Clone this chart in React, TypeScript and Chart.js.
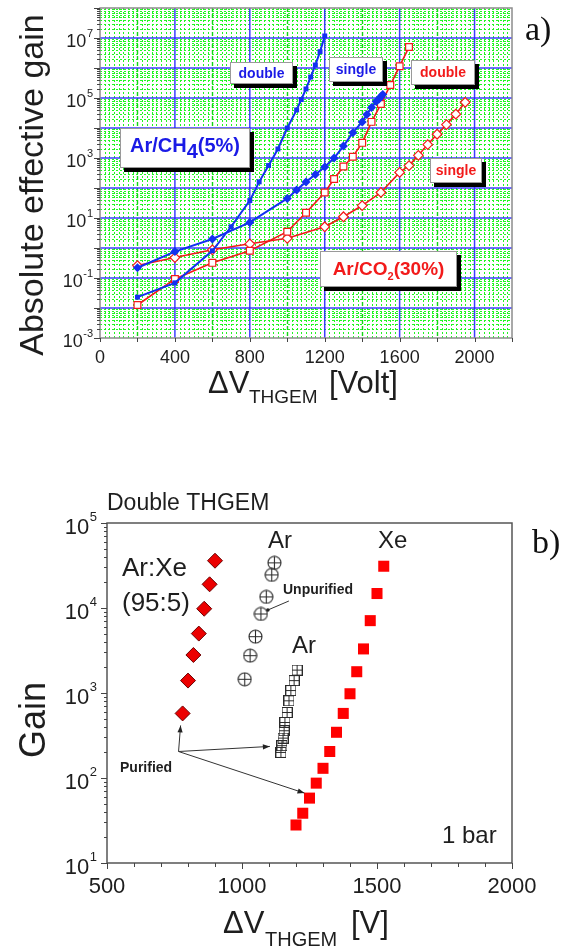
import React, { useEffect, useRef } from 'react';
import { Chart, registerables } from 'chart.js';

Chart.register(...registerables);

const FONT = "'Liberation Sans', Arial, Helvetica, sans-serif";
const SERIF = "'Liberation Serif', 'Times New Roman', Times, serif";
const BLUE = '#1430f0';
const RED = '#f21a1a';
const TXT = '#1e1e1e';

// ---------- Panel a) data : Absolute effective gain vs dV_THGEM ----------
const aChSingleV = [200, 400, 600, 800, 1000, 1050, 1100, 1150, 1200, 1250, 1300, 1350, 1400, 1425, 1450, 1475, 1490, 1500, 1510];
const aChSingleG = [0.22, 0.76, 2.0, 7.1, 45, 85, 160, 280, 500, 1000, 2500, 7000, 16000, 28000, 48000, 76000, 93000, 112000, 132000];
const aChDoubleV = [200, 400, 600, 700, 800, 850, 900, 950, 1000, 1050, 1075, 1100, 1125, 1150, 1175, 1200];
const aChDoubleG = [0.023, 0.069, 0.81, 5.1, 38, 160, 560, 2000, 10000, 40000, 89000, 200000, 500000, 1260000, 3500000, 11700000];
const aCoDoubleV = [200, 400, 600, 800, 1000, 1100, 1200, 1250, 1300, 1350, 1400, 1450, 1500, 1550, 1600, 1650];
const aCoDoubleG = [0.0126, 0.093, 0.32, 0.81, 3.5, 15, 71, 200, 520, 1100, 3200, 16000, 63000, 270000, 1150000, 5000000];
const aCoSingleV = [200, 400, 600, 800, 1000, 1200, 1300, 1400, 1500, 1600, 1650, 1700, 1750, 1800, 1850, 1900, 1950];
const aCoSingleG = [0.26, 0.48, 0.87, 1.38, 2.1, 5.1, 11, 26, 71, 330, 560, 1230, 2800, 6200, 13000, 29000, 72000];
const aXTicks = [0, 400, 800, 1200, 1600, 2000];
const aYTickExps = [-3, -1, 1, 3, 5, 7];

// ---------- Panel b) data : Gain vs dV_THGEM (Double THGEM, 1 bar) ----------
const bArXeV = [780, 800, 820, 840, 860, 880, 900];
const bArXeG = [575, 1400, 2800, 5000, 9800, 19000, 36000];
const bArUnpV = [1010, 1030, 1050, 1070, 1090, 1110, 1120];
const bArUnpG = [1450, 2750, 4600, 8500, 13500, 24500, 34000];
const bArPurV = [1204, 1193, 1181, 1174, 1167, 1159, 1156, 1152, 1148, 1144];
const bArPurG = [1860, 1400, 1070, 810, 590, 450, 360, 295, 240, 200];
const bXeV = [1200, 1225, 1250, 1275, 1300, 1325, 1350, 1375, 1400, 1425, 1450, 1475, 1500, 1525];
const bXeG = [28, 38.5, 58, 87, 130, 205, 345, 575, 980, 1780, 3300, 7100, 14800, 31000];
const bXTicks = [500, 1000, 1500, 2000];
const bYTickExps = [1, 2, 3, 4, 5];

const pts = (xs: number[], ys: number[]) => xs.map((v, i) => ({ x: v, y: ys[i] }));

function seg(ctx: any, x1: number, y1: number, x2: number, y2: number) {
  ctx.beginPath();
  ctx.moveTo(x1, y1);
  ctx.lineTo(x2, y2);
  ctx.stroke();
}

function supLabel(ctx: any, xRight: number, yTick: number, exp: string, bigSize: number, smallSize: number, bigDy: number, smallDy: number) {
  ctx.textAlign = 'left';
  ctx.textBaseline = 'alphabetic';
  ctx.font = `${smallSize}px ${FONT}`;
  const ew = ctx.measureText(exp).width;
  ctx.fillText(exp, xRight - ew, yTick + smallDy);
  ctx.font = `${bigSize}px ${FONT}`;
  const bw = ctx.measureText('10').width;
  ctx.fillText('10', xRight - ew - bw - 0.5, yTick + bigDy);
}

type Run = { t: string; font: string; dy?: number };
function runsWidth(ctx: any, list: Run[]) {
  let w = 0;
  for (const r of list) {
    ctx.font = r.font;
    w += ctx.measureText(r.t).width;
  }
  return w;
}
function drawRuns(ctx: any, x: number, y: number, list: Run[]) {
  ctx.textAlign = 'left';
  ctx.textBaseline = 'alphabetic';
  let cx = x;
  for (const r of list) {
    ctx.font = r.font;
    ctx.fillText(r.t, cx, y + (r.dy || 0));
    cx += ctx.measureText(r.t).width;
  }
  return cx;
}

function shadowBox(ctx: any, x: number, y: number, w: number, h: number) {
  ctx.fillStyle = '#000';
  ctx.fillRect(x + 4, y + 4, w, h);
  ctx.fillStyle = '#fff';
  ctx.fillRect(x, y, w, h);
  ctx.strokeStyle = '#9a9a9a';
  ctx.lineWidth = 1;
  ctx.strokeRect(x + 0.5, y + 0.5, w - 1, h - 1);
}

function boxText(ctx: any, x: number, y: number, w: number, h: number, list: Run[], color: string, baseline: number) {
  shadowBox(ctx, x, y, w, h);
  ctx.fillStyle = color;
  const tw = runsWidth(ctx, list);
  drawRuns(ctx, x + (w - tw) / 2, baseline, list);
}

function arrow(ctx: any, x1: number, y1: number, x2: number, y2: number) {
  seg(ctx, x1, y1, x2, y2);
  const a = Math.atan2(y2 - y1, x2 - x1);
  const L = 7, W = 2.6;
  ctx.beginPath();
  ctx.moveTo(x2, y2);
  ctx.lineTo(x2 - L * Math.cos(a) + W * Math.sin(a), y2 - L * Math.sin(a) - W * Math.cos(a));
  ctx.lineTo(x2 - L * Math.cos(a) - W * Math.sin(a), y2 - L * Math.sin(a) + W * Math.cos(a));
  ctx.closePath();
  ctx.fill();
}

function circlePlus(d: number) {
  const c = document.createElement('canvas');
  c.width = d;
  c.height = d;
  const g = c.getContext('2d')!;
  const m = d / 2, r = d / 2 - 1;
  g.strokeStyle = '#2a2a2a';
  g.lineWidth = 1.1;
  g.beginPath();
  g.arc(m, m, r, 0, Math.PI * 2);
  g.stroke();
  g.beginPath();
  g.moveTo(m, m - r);
  g.lineTo(m, m + r);
  g.moveTo(m - r, m);
  g.lineTo(m + r, m);
  g.stroke();
  return c;
}

function squarePlus(d: number) {
  const c = document.createElement('canvas');
  c.width = d;
  c.height = d;
  const g = c.getContext('2d')!;
  g.strokeStyle = '#2a2a2a';
  g.lineWidth = 1;
  g.strokeRect(0.5, 0.5, d - 1, d - 1);
  const m = Math.floor(d / 2) + 0.5;
  g.beginPath();
  g.moveTo(m, 0);
  g.lineTo(m, d);
  g.moveTo(0, m);
  g.lineTo(d, m);
  g.stroke();
  return c;
}

const panelAPlugin = {
  id: 'panelA',
  beforeDatasetsDraw(chart: any) {
    const { ctx, chartArea: ca } = chart;
    const x = chart.scales.x, y = chart.scales.y;
    ctx.save();
    ctx.fillStyle = '#ffffff';
    ctx.fillRect(ca.left, ca.top, ca.right - ca.left, ca.bottom - ca.top);
    // dense green dotted grid
    ctx.lineWidth = 1;
    ctx.strokeStyle = '#22f522';
    ctx.setLineDash([2, 2]);
    for (let v = 25; v < 2200; v += 25) {
      if (v % 200 === 0) continue;
      const px = Math.round(x.getPixelForValue(v)) + 0.5;
      seg(ctx, px, ca.top, px, ca.bottom);
    }
    for (let e = -3; e < 8; e++) {
      for (let k = 2; k < 10; k++) {
        const py = Math.round(y.getPixelForValue(k * Math.pow(10, e))) + 0.5;
        seg(ctx, ca.left, py, ca.right, py);
      }
    }
    // medium green dashed verticals
    ctx.strokeStyle = '#14d614';
    ctx.lineWidth = 1.4;
    ctx.setLineDash([4, 2]);
    for (let v = 200; v < 2200; v += 400) {
      const px = Math.round(x.getPixelForValue(v)) + 0.5;
      seg(ctx, px, ca.top, px, ca.bottom);
    }
    // blue major grid
    ctx.setLineDash([]);
    ctx.strokeStyle = 'rgba(40,40,255,0.9)';
    ctx.lineWidth = 1.5;
    for (let v = 400; v <= 2000; v += 400) {
      const px = x.getPixelForValue(v);
      seg(ctx, px, ca.top, px, ca.bottom);
    }
    for (let e = -2; e <= 7; e++) {
      const py = y.getPixelForValue(Math.pow(10, e));
      seg(ctx, ca.left, py, ca.right, py);
    }
    ctx.restore();
  },
  afterDraw(chart: any) {
    const { ctx, chartArea: ca } = chart;
    const x = chart.scales.x, y = chart.scales.y;
    ctx.save();
    // label boxes
    boxText(ctx, 230, 62, 63, 22, [{ t: 'double', font: `bold 14px ${FONT}` }], '#1a1ae6', 78);
    boxText(ctx, 329, 57, 54, 25, [{ t: 'single', font: `bold 14px ${FONT}` }], '#1a1ae6', 74);
    boxText(ctx, 411, 60, 64, 25, [{ t: 'double', font: `bold 14px ${FONT}` }], RED, 77);
    boxText(ctx, 430, 158, 52, 25, [{ t: 'single', font: `bold 14px ${FONT}` }], RED, 175);
    boxText(ctx, 120, 128, 130, 40, [
      { t: 'Ar/CH', font: `bold 20px ${FONT}` },
      { t: '4', font: `bold 20px ${FONT}`, dy: 6 },
      { t: '(5%)', font: `bold 20px ${FONT}` },
    ], '#1a1ae6', 152);
    boxText(ctx, 320, 251, 137, 36, [
      { t: 'Ar/CO', font: `bold 19px ${FONT}` },
      { t: '2', font: `bold 11px ${FONT}`, dy: 5 },
      { t: '(30%)', font: `bold 19px ${FONT}` },
    ], RED, 275);

    // frame
    ctx.strokeStyle = '#8c8c8c';
    ctx.lineWidth = 1.5;
    ctx.strokeRect(ca.left, ca.top, ca.right - ca.left, ca.bottom - ca.top);
    // ticks
    ctx.strokeStyle = '#444';
    ctx.lineWidth = 1;
    for (let v = 0; v <= 2200; v += 200) {
      const px = Math.round(x.getPixelForValue(v)) + 0.5;
      seg(ctx, px, ca.bottom, px, ca.bottom + 4);
    }
    for (let e = -3; e <= 8; e++) {
      const py = Math.round(y.getPixelForValue(Math.pow(10, e))) + 0.5;
      seg(ctx, ca.left - 6, py, ca.left, py);
      if (e < 8) {
        for (let k = 2; k < 10; k++) {
          const pm = Math.round(y.getPixelForValue(k * Math.pow(10, e))) + 0.5;
          seg(ctx, ca.left - 3, pm, ca.left, pm);
        }
      }
    }
    // tick labels
    ctx.fillStyle = TXT;
    ctx.font = `18px ${FONT}`;
    ctx.textAlign = 'center';
    ctx.textBaseline = 'alphabetic';
    aXTicks.forEach((v) => ctx.fillText(String(v), x.getPixelForValue(v), 363));
    aYTickExps.forEach((e) => {
      supLabel(ctx, 93, y.getPixelForValue(Math.pow(10, e)), String(e), 18, 11, 9, -1);
    });
    // axis titles
    ctx.fillStyle = TXT;
    drawRuns(ctx, 208, 393, [{ t: '\u0394V', font: `31px ${FONT}` }]);
    drawRuns(ctx, 249, 403, [{ t: 'THGEM', font: `19px ${FONT}` }]);
    drawRuns(ctx, 329, 393, [{ t: '[Volt]', font: `31px ${FONT}` }]);
    ctx.save();
    ctx.translate(43, 185);
    ctx.rotate(-Math.PI / 2);
    ctx.textAlign = 'center';
    ctx.textBaseline = 'alphabetic';
    ctx.font = `34px ${FONT}`;
    ctx.fillText('Absolute effective gain', 0, 0);
    ctx.restore();
    // panel tag
    ctx.fillStyle = '#111';
    ctx.font = `34px ${SERIF}`;
    ctx.textAlign = 'left';
    ctx.fillText('a)', 525, 40);
    ctx.restore();
  },
};

const OY = 460;
const panelBPlugin = {
  id: 'panelB',
  afterDraw(chart: any) {
    const { ctx, chartArea: ca } = chart;
    const x = chart.scales.x, y = chart.scales.y;
    ctx.save();
    // frame
    ctx.strokeStyle = '#555';
    ctx.lineWidth = 1.5;
    ctx.strokeRect(ca.left, ca.top, ca.right - ca.left, ca.bottom - ca.top);
    // ticks
    ctx.lineWidth = 1;
    ctx.strokeStyle = '#444';
    for (let v = 500; v <= 2000; v += 100) {
      const px = Math.round(x.getPixelForValue(v)) + 0.5;
      seg(ctx, px, ca.bottom, px, ca.bottom + (v % 500 === 0 ? 6 : 4));
    }
    for (let e = 1; e <= 5; e++) {
      const py = Math.round(y.getPixelForValue(Math.pow(10, e))) + 0.5;
      seg(ctx, ca.left - 6, py, ca.left, py);
      if (e < 5) {
        for (let k = 2; k < 10; k++) {
          const pm = Math.round(y.getPixelForValue(k * Math.pow(10, e))) + 0.5;
          seg(ctx, ca.left - 3, pm, ca.left, pm);
        }
      }
    }
    // tick labels
    ctx.fillStyle = TXT;
    ctx.font = `22px ${FONT}`;
    ctx.textAlign = 'center';
    ctx.textBaseline = 'alphabetic';
    bXTicks.forEach((v) => ctx.fillText(String(v), x.getPixelForValue(v), 893 - OY));
    bYTickExps.forEach((e) => {
      supLabel(ctx, 97, y.getPixelForValue(Math.pow(10, e)), String(e), 22, 13, 11, -2);
    });
    // axis titles
    drawRuns(ctx, 223, 933 - OY, [{ t: '\u0394V', font: `31px ${FONT}` }]);
    drawRuns(ctx, 265, 946 - OY, [{ t: 'THGEM', font: `20px ${FONT}` }]);
    drawRuns(ctx, 351, 933 - OY, [{ t: '[V]', font: `31px ${FONT}` }]);
    ctx.save();
    ctx.translate(45, 720 - OY);
    ctx.rotate(-Math.PI / 2);
    ctx.textAlign = 'center';
    ctx.font = `36px ${FONT}`;
    ctx.fillText('Gain', 0, 0);
    ctx.restore();

    // annotations
    ctx.fillStyle = TXT;
    ctx.textAlign = 'left';
    ctx.font = `23px ${FONT}`;
    ctx.fillText('Double THGEM', 107, 510 - OY);
    ctx.font = `26px ${FONT}`;
    ctx.fillText('Ar:Xe', 122, 576 - OY);
    ctx.fillText('(95:5)', 122, 611 - OY);
    ctx.font = `24px ${FONT}`;
    ctx.fillText('Ar', 268, 548 - OY);
    ctx.fillText('Ar', 292, 653 - OY);
    ctx.fillText('Xe', 378, 548 - OY);
    ctx.fillText('1 bar', 442, 843 - OY);
    ctx.font = `bold 14px ${FONT}`;
    ctx.fillText('Unpurified', 283, 594 - OY);
    ctx.fillText('Purified', 120, 772 - OY);
    ctx.fillStyle = '#111';
    ctx.font = `34px ${SERIF}`;
    ctx.fillText('b)', 532, 553 - OY);

    // connector to unpurified Ar
    const pu = { x: x.getPixelForValue(bArUnpV[3]) + 7, y: y.getPixelForValue(bArUnpG[3]) - 4 };
    ctx.strokeStyle = '#333';
    ctx.fillStyle = '#222';
    ctx.lineWidth = 1;
    seg(ctx, pu.x, pu.y, pu.x + 21, pu.y - 9);
    ctx.beginPath();
    ctx.arc(pu.x, pu.y, 1.8, 0, Math.PI * 2);
    ctx.fill();

    // "Purified" arrows
    const ox = x.getPixelForValue(765), oy = y.getPixelForValue(205);
    const t1 = { x: x.getPixelForValue(bArXeV[0]) - 2, y: y.getPixelForValue(bArXeG[0]) + 12 };
    const t2 = { x: x.getPixelForValue(bArPurV[bArPurV.length - 1]) - 11, y: y.getPixelForValue(bArPurG[bArPurG.length - 1]) - 6 };
    const t3 = { x: x.getPixelForValue(bXeV[2]) - 5, y: y.getPixelForValue(bXeG[2]) - 5 };
    arrow(ctx, ox, oy, t1.x, t1.y);
    arrow(ctx, ox, oy, t2.x, t2.y);
    arrow(ctx, ox, oy, t3.x, t3.y);
    ctx.restore();
  },
};

export default function App() {
  const refA = useRef<HTMLCanvasElement>(null);
  const refB = useRef<HTMLCanvasElement>(null);

  useEffect(() => {
    const chartA = new Chart(refA.current as HTMLCanvasElement, {
      type: 'scatter',
      data: {
        datasets: [
          {
            label: 'Ar/CH4 double',
            data: pts(aChDoubleV, aChDoubleG),
            showLine: true,
            borderColor: BLUE,
            backgroundColor: BLUE,
            borderWidth: 2,
            pointStyle: 'rect',
            pointRadius: 3.5,
            pointBorderWidth: 0,
            pointBackgroundColor: BLUE,
          },
          {
            label: 'Ar/CH4 single',
            data: pts(aChSingleV, aChSingleG),
            showLine: true,
            borderColor: BLUE,
            backgroundColor: BLUE,
            borderWidth: 2,
            pointStyle: 'rectRot',
            pointRadius: 4.5,
            pointBorderWidth: 0,
            pointBackgroundColor: BLUE,
          },
          {
            label: 'Ar/CO2 double',
            data: pts(aCoDoubleV, aCoDoubleG),
            showLine: true,
            borderColor: RED,
            backgroundColor: '#fff',
            borderWidth: 1.6,
            pointStyle: 'rect',
            pointRadius: 4.8,
            pointBorderWidth: 1.2,
            pointBorderColor: RED,
            pointBackgroundColor: '#fff',
          },
          {
            label: 'Ar/CO2 single',
            data: pts(aCoSingleV, aCoSingleG),
            showLine: true,
            borderColor: RED,
            backgroundColor: '#fff',
            borderWidth: 1.6,
            pointStyle: 'rectRot',
            pointRadius: 4.8,
            pointBorderWidth: 1.2,
            pointBorderColor: RED,
            pointBackgroundColor: '#fff',
          },
        ],
      },
      options: {
        responsive: false,
        animation: false,
        events: [],
        layout: { padding: { left: 100, right: 61, top: 8, bottom: 77 } },
        plugins: { legend: { display: false }, tooltip: { enabled: false } },
        scales: {
          x: { type: 'linear', min: 0, max: 2200, display: false },
          y: { type: 'logarithmic', min: 0.001, max: 1e8, display: false },
        },
      },
      plugins: [panelAPlugin],
    } as any);

    const circ = circlePlus(15);
    const sq = squarePlus(11);
    const chartB = new Chart(refB.current as HTMLCanvasElement, {
      type: 'scatter',
      data: {
        datasets: [
          {
            label: 'Ar:Xe (95:5)',
            data: pts(bArXeV, bArXeG),
            pointStyle: 'rectRot',
            pointRadius: 7.5,
            pointBackgroundColor: '#ec0000',
            backgroundColor: '#ec0000',
            pointBorderColor: '#6a0000',
            borderColor: '#6a0000',
            pointBorderWidth: 1,
          },
          {
            label: 'Ar unpurified',
            data: pts(bArUnpV, bArUnpG),
            pointStyle: circ,
            pointRadius: 7,
          },
          {
            label: 'Ar purified',
            data: pts(bArPurV, bArPurG),
            pointStyle: sq,
            pointRadius: 5,
          },
          {
            label: 'Xe',
            data: pts(bXeV, bXeG),
            pointStyle: 'rect',
            pointRadius: 7.8,
            pointBackgroundColor: '#ff0000',
            backgroundColor: '#ff0000',
            pointBorderWidth: 0,
          },
        ],
      },
      options: {
        responsive: false,
        animation: false,
        events: [],
        layout: { padding: { left: 107, right: 61, top: 63, bottom: 86 } },
        plugins: { legend: { display: false }, tooltip: { enabled: false } },
        scales: {
          x: { type: 'linear', min: 500, max: 2000, display: false },
          y: { type: 'logarithmic', min: 10, max: 1e5, display: false },
        },
      },
      plugins: [panelBPlugin],
    } as any);

    return () => {
      chartA.destroy();
      chartB.destroy();
    };
  }, []);

  return (
    <div style={{ position: 'absolute', left: 0, top: 0, width: 573, height: 949, background: '#fff', overflow: 'hidden' }}>
      <canvas ref={refA} width={573} height={415} style={{ position: 'absolute', left: 0, top: 0, width: 573, height: 415 }} />
      <canvas ref={refB} width={573} height={489} style={{ position: 'absolute', left: 0, top: 460, width: 573, height: 489 }} />
    </div>
  );
}
